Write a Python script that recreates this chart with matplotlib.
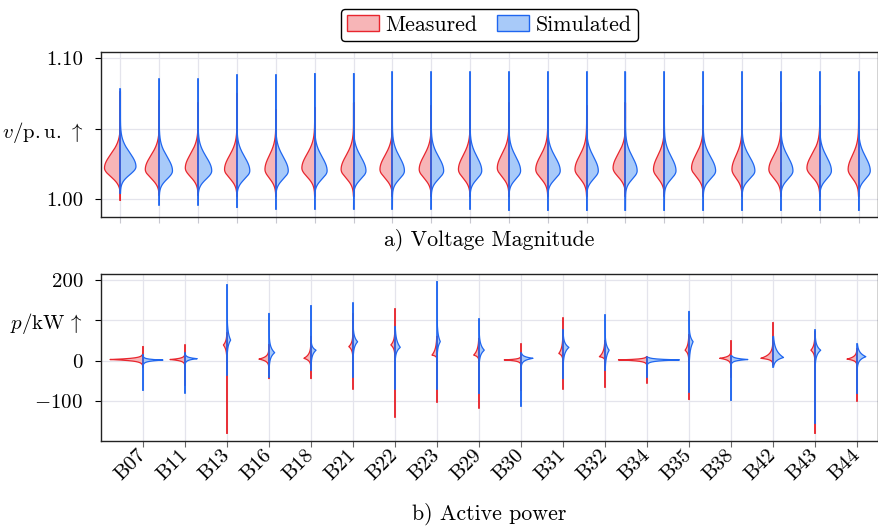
import numpy as np
import matplotlib
matplotlib.use("Agg")
import matplotlib.pyplot as plt
from matplotlib.patches import Patch

plt.rcParams['font.family'] = 'serif'
plt.rcParams['font.serif'] = ['cmr10', 'DejaVu Serif']
plt.rcParams['mathtext.fontset'] = 'cm'
plt.rcParams['axes.formatter.use_mathtext'] = True

RED, RED_FILL = '#e8262e', '#f7b5b7'
BLUE, BLUE_FILL = '#1f66f0', '#a8caf9'
GRID = '#e4e4ec'

# ---- a) voltage magnitude (p.u.), 20 nodes ----
# peak position, peak half-width (density), min, max of each half violin
v_meas_peak = [1.022, 1.021, 1.022, 1.021, 1.021, 1.022, 1.021, 1.021, 1.021, 1.021,
               1.022, 1.021, 1.021, 1.022, 1.021, 1.022, 1.021, 1.021, 1.022, 1.021]
v_meas_dens = [0.41, 0.36, 0.33, 0.32, 0.28, 0.33, 0.32, 0.32, 0.31, 0.30,
               0.30, 0.31, 0.30, 0.32, 0.28, 0.30, 0.26, 0.31, 0.33, 0.27]
v_meas_min = [0.999, 1.003, 1.003, 1.002, 1.002, 1.002, 1.002, 1.002, 1.002, 1.002,
              1.002, 1.002, 1.002, 1.002, 1.002, 1.002, 1.002, 1.002, 1.002, 1.002]
v_meas_max = [1.076, 1.070, 1.068, 1.075, 1.063, 1.065, 1.068, 1.070, 1.066, 1.070,
              1.068, 1.070, 1.066, 1.068, 1.070, 1.066, 1.070, 1.068, 1.066, 1.070]
v_sim_peak = [1.023, 1.020, 1.020, 1.020, 1.020, 1.020, 1.020, 1.020, 1.020, 1.020,
              1.020, 1.020, 1.020, 1.020, 1.020, 1.020, 1.020, 1.020, 1.020, 1.020]
v_sim_dens = [0.40, 0.34, 0.35, 0.33, 0.32, 0.32, 0.32, 0.31, 0.32, 0.30,
              0.30, 0.32, 0.30, 0.30, 0.30, 0.32, 0.33, 0.31, 0.30, 0.30]
v_sim_min = [1.004, 0.996, 0.996, 0.994, 0.993, 0.993, 0.993, 0.993, 0.993, 0.993,
             0.992, 0.992, 0.992, 0.992, 0.992, 0.992, 0.992, 0.992, 0.992, 0.992]
v_sim_max = [1.078, 1.085, 1.085, 1.088, 1.088, 1.089, 1.089, 1.090, 1.090, 1.090,
             1.090, 1.090, 1.090, 1.090, 1.090, 1.090, 1.090, 1.090, 1.090, 1.090]

# ---- b) active power (kW) ----
buses = ['B07', 'B11', 'B13', 'B16', 'B18', 'B21', 'B22', 'B23', 'B29',
         'B30', 'B31', 'B32', 'B34', 'B35', 'B38', 'B42', 'B43', 'B44']
p_meas_peak = [3, 3, 39, 4, 6, 35, 39, 14, 14, 2, 18, 10, 2, 26, 6, 6, 26, 4]
p_meas_dens = [0.785, 0.357, 0.087, 0.24, 0.17, 0.10, 0.10, 0.12, 0.127,
               0.40, 0.10, 0.135, 0.68, 0.095, 0.27, 0.29, 0.10, 0.24]
p_meas_lo = [-7, -7, 6, -11, -11, 10, 14, 6, 2, -6, 2, 2, -6, 2, -7, -4, 2, -7]
p_meas_hi = [12, 12, 68, 22, 35, 64, 72, 60, 55, 8, 60, 47, 8, 64, 18, 35, 60, 22]
p_meas_min = [-15, -60, -180, -44, -44, -69, -139, -102, -116,
              -73, -69, -65, -54, -96, -40, -10, -180, -99]
p_meas_max = [35, 38, 68, 40, 60, 117, 128, 60, 55, 41, 105, 50, 10, 64, 49, 94, 72, 30]
p_sim_peak = [1.6, 5, 51, 20, 26, 47, 33, 47, 26, 6, 33, 26, 2, 47, 3, 8, 26, 10]
p_sim_dens = [0.475, 0.29, 0.087, 0.135, 0.12, 0.11, 0.127, 0.08, 0.127,
              0.285, 0.14, 0.10, 0.77, 0.10, 0.40, 0.25, 0.135, 0.21]
p_sim_lo = [-7, -5, 10, -15, -7, 10, 2, 10, -7, -10, -7, -23, -6, -10, -6, -15, -10, -15]
p_sim_hi = [8, 14, 109, 60, 47, 84, 84, 101, 68, 18, 64, 64, 8, 84, 12, 60, 60, 41]
p_sim_min = [-73, -79, -35, -40, -23, -40, -69, -69, -81,
             -112, -44, -23, -40, -77, -98, -15, -155, -81]
p_sim_max = [14, 18, 188, 117, 136, 142, 84, 196, 103, 18, 76, 113, 8, 122, 12, 60, 76, 41]


def half_violin(ax, c, side, peak, dens, lo, hi, vmin, vmax, power, line, fill):
    y = np.linspace(vmin, vmax, 3000)
    y = np.sort(np.append(y, peak))
    L = np.where(y < peak, peak - lo, hi - peak)
    d = np.exp(-3.0 * (np.abs(y - peak) / L) ** power)
    x = c + side * dens * d
    ax.fill_betweenx(y, c, x, facecolor=fill, edgecolor='none', zorder=2)
    ax.plot(x, y, color=line, lw=0.9, zorder=3)
    ax.plot([c, c], [vmin, vmax], color=line, lw=1.2, zorder=3)


fig = plt.figure(figsize=(8.79, 5.26), dpi=100)
ax1 = fig.add_axes([0.1149, 0.5875, 0.884, 0.3136])
ax2 = fig.add_axes([0.1149, 0.1616, 0.884, 0.3175])

for i in range(len(v_meas_peak)):
    half_violin(ax1, i, -1, v_meas_peak[i], v_meas_dens[i], v_meas_peak[i] - 0.015,
                v_meas_peak[i] + 0.024, v_meas_min[i], v_meas_max[i], 2, RED, RED_FILL)
for i in range(len(v_sim_peak)):
    half_violin(ax1, i, 1, v_sim_peak[i], v_sim_dens[i], v_sim_peak[i] - 0.014,
                v_sim_peak[i] + 0.024, v_sim_min[i], v_sim_max[i], 2, BLUE, BLUE_FILL)

for i in range(len(buses)):
    half_violin(ax2, i, -1, p_meas_peak[i], p_meas_dens[i], p_meas_lo[i], p_meas_hi[i],
                p_meas_min[i], p_meas_max[i], 1, RED, RED_FILL)
for i in range(len(buses)):
    half_violin(ax2, i, 1, p_sim_peak[i], p_sim_dens[i], p_sim_lo[i], p_sim_hi[i],
                p_sim_min[i], p_sim_max[i], 1, BLUE, BLUE_FILL)

ax1.set_xlim(-0.5, 19.5)
ax1.set_ylim(0.9872, 1.1045)
ax1.set_xticks(range(len(v_meas_peak)))
ax1.set_xticklabels([])
ax1.set_yticks([1.0, 1.05, 1.1])
ax1.set_yticklabels(['1.00', r'$v/\mathrm{p.u.}\,\uparrow$', '1.10'])
ax1.tick_params(axis='x', length=4, color='#c8c8d0')

ax2.set_xlim(-1, 17.5)
ax2.set_ylim(-199, 215)
ax2.set_xticks(range(len(buses)))
ax2.set_xticklabels(buses, rotation=45, ha='right', va='center',
                    rotation_mode='anchor', fontsize=15)
ax2.set_yticks([-100, 0, 100, 200])
ax2.set_yticklabels([r'$-100$', '0', r'$p/\mathrm{kW}\,\uparrow$', '200'])
ax2.tick_params(axis='x', length=4, color='#666666', pad=4)

for ax in (ax1, ax2):
    ax.grid(True, color=GRID, lw=0.9, zorder=0)
    ax.set_axisbelow(True)
    ax.tick_params(axis='y', length=4, pad=9, labelsize=15)
    for s in ax.spines.values():
        s.set_linewidth(1.0)
        s.set_color('#222222')

fig.text(489.5 / 879, 1 - 240 / 526, 'a) Voltage Magnitude', ha='center', va='center', fontsize=15.8)
fig.text(489.5 / 879, 1 - 514 / 526, 'b) Active power', ha='center', va='center', fontsize=15.8)

handles = [Patch(facecolor=RED_FILL, edgecolor=RED, lw=1, label='Measured'),
           Patch(facecolor=BLUE_FILL, edgecolor=BLUE, lw=1, label='Simulated')]
leg = fig.legend(handles=handles, loc='center', bbox_to_anchor=(489.5 / 879, 1 - 25 / 526),
                 ncol=2, fontsize=15.8, frameon=True, fancybox=True, framealpha=1,
                 edgecolor='black', handlelength=1.45, handleheight=0.75,
                 columnspacing=0.9, handletextpad=0.3, borderpad=0.3)
leg.get_frame().set_linewidth(1.0)

fig.savefig('out.png', dpi=100)
